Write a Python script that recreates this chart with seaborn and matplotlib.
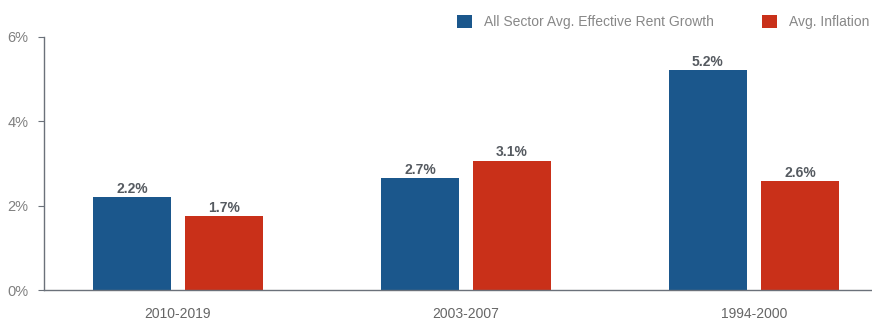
import matplotlib
matplotlib.use("Agg")
import matplotlib.pyplot as plt
import seaborn as sns
import pandas as pd
from matplotlib.patches import Patch

periods = ["2010-2019", "2003-2007", "1994-2000"]
series_names = ["All Sector Avg. Effective Rent Growth", "Avg. Inflation"]
rent_growth = [2.2, 2.65, 5.22]
inflation = [1.75, 3.07, 2.58]
rent_labels = ["2.2%", "2.7%", "5.2%"]
infl_labels = ["1.7%", "3.1%", "2.6%"]
yticks = [0, 2, 4, 6]
ytick_labels = ["0%", "2%", "4%", "6%"]
colors = ["#1B578C", "#C93019"]

df = pd.DataFrame({
    "period": periods * 2,
    "series": [series_names[0]] * 3 + [series_names[1]] * 3,
    "value": rent_growth + inflation,
})

sns.set_theme(style="white")
plt.rcParams["font.family"] = ["Liberation Sans", "DejaVu Sans"]

fig = plt.figure(figsize=(8.72, 3.2), dpi=100)
ax = fig.add_axes([44 / 872, 30 / 320, 828 / 872, 253 / 320])

sns.barplot(data=df, x="period", y="value", hue="series", order=periods,
            hue_order=series_names, palette=colors, width=0.639, gap=0.152,
            saturation=1, ax=ax, legend=False, errorbar=None, linewidth=0)

for cont, labs in zip(ax.containers, [rent_labels, infl_labels]):
    ax.bar_label(cont, labels=labs, padding=1, fontsize=10, fontweight="bold",
                 color="#555a60")

ax.set_xlim(-0.465, 2.41)
ax.set_ylim(0, 6)
ax.set_yticks(yticks)
ax.set_yticklabels(ytick_labels)
ax.set_xlabel("")
ax.set_ylabel("")

for s in ["top", "right"]:
    ax.spines[s].set_visible(False)
for s in ["left", "bottom"]:
    ax.spines[s].set_color("#6b717a")
    ax.spines[s].set_linewidth(1.0)

ax.tick_params(axis="y", which="both", left=True, length=4, width=0.8,
               color="#6b717a", pad=7, labelsize=10.5, labelcolor="#808080")
ax.tick_params(axis="x", which="both", bottom=False, length=0, pad=12,
               labelsize=10, labelcolor="#666666")

handles = [Patch(facecolor=c, edgecolor="none") for c in colors]
fig.legend(handles, series_names, loc="upper left",
           bbox_to_anchor=(444 / 872, 1 - 2 / 320), ncol=2, frameon=False,
           fontsize=10, labelcolor="#888888", handlelength=1.1,
           handleheight=1.1, handletextpad=0.85, columnspacing=3.5)

fig.savefig("out.png", dpi=100)
